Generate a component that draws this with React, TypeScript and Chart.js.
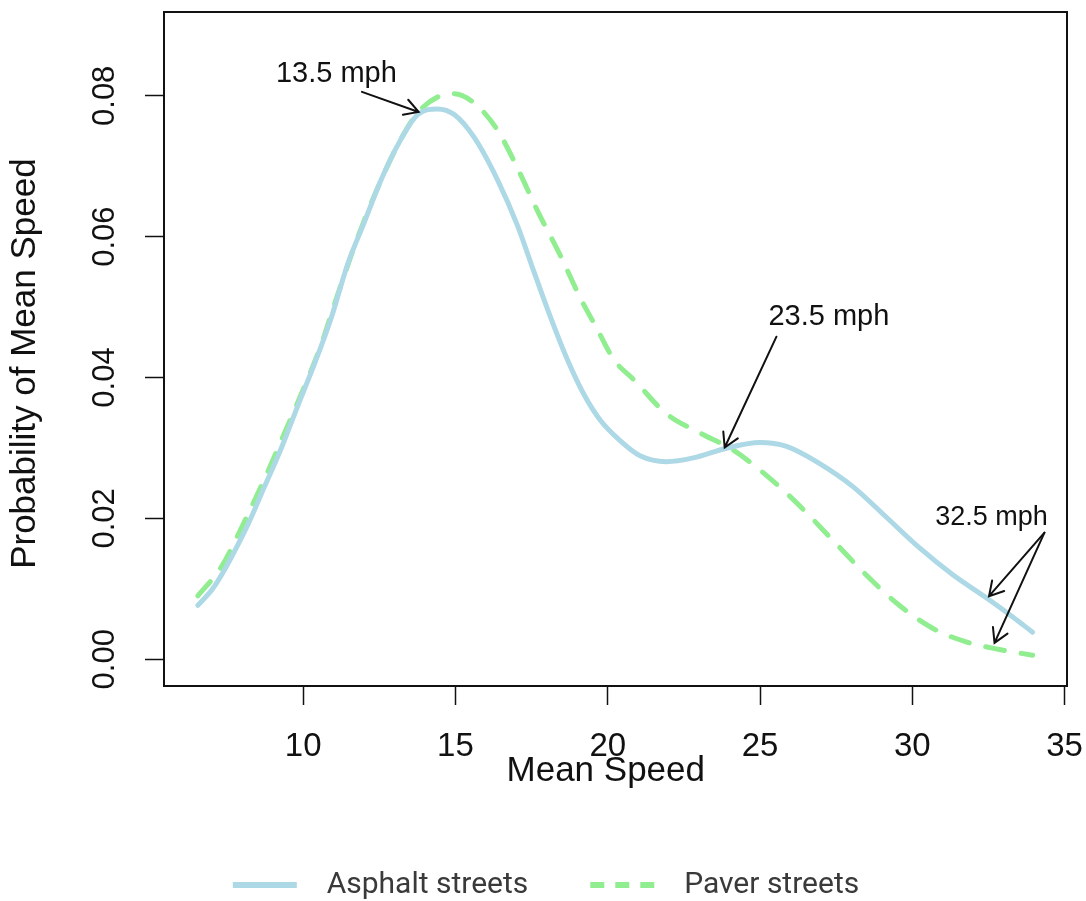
import React, { useEffect, useRef } from "react";
import { Chart, registerables } from "chart.js";

Chart.register(...registerables);

// Asphalt streets (solid light blue)
const asphaltX = [6.54, 7.09, 8.18, 8.73, 9.28, 9.82, 10.37, 10.92, 11.46, 12.01, 12.56, 13.10, 13.76, 14.41, 14.96, 15.62, 16.38, 17.04, 17.58, 18.13, 18.68, 19.22, 19.77, 20.40, 21.06, 21.93, 22.81, 23.90, 24.99, 25.87, 26.96, 28.05, 29.15, 30.24, 31.33, 32.43, 33.30, 33.95];
const asphaltY = [0.00764, 0.01038, 0.01908, 0.02451, 0.02996, 0.03595, 0.04193, 0.04846, 0.05609, 0.06208, 0.06807, 0.07296, 0.07733, 0.07814, 0.07733, 0.07405, 0.06807, 0.06154, 0.05499, 0.04846, 0.04248, 0.03758, 0.03385, 0.03105, 0.02888, 0.02805, 0.02859, 0.02996, 0.03077, 0.03023, 0.02778, 0.02451, 0.02016, 0.01580, 0.01199, 0.00873, 0.00600, 0.00383];

// Paver streets (dashed light green)
const paverX = [6.54, 7.31, 8.08, 8.73, 9.39, 10.04, 10.59, 11.13, 11.79, 12.45, 13.10, 13.76, 14.52, 14.96, 15.62, 16.38, 17.04, 17.69, 18.46, 19.11, 19.66, 20.21, 20.84, 21.93, 23.03, 24.12, 25.20, 26.30, 27.39, 28.48, 29.58, 30.68, 31.77, 32.86, 33.95];
const paverY = [0.00900, 0.01309, 0.01963, 0.02560, 0.03215, 0.03869, 0.04467, 0.05174, 0.05990, 0.06697, 0.07297, 0.07760, 0.08004, 0.08031, 0.07895, 0.07513, 0.06970, 0.06371, 0.05718, 0.05120, 0.04683, 0.04248, 0.03976, 0.03485, 0.03213, 0.02969, 0.02615, 0.02179, 0.01690, 0.01199, 0.00764, 0.00437, 0.00246, 0.00138, 0.00057];

const seriesLabels = ["Asphalt streets", "Paver streets"];
const xTicks = [10, 15, 20, 25, 30, 35];
const yTicks = [0, 0.02, 0.04, 0.06, 0.08];

// Annotations (data coordinates)
const noteText = ["13.5 mph", "23.5 mph", "32.5 mph"];
const noteX = [11.09, 27.26, 32.60];
const noteY = [0.08198, 0.04751, 0.01908];
const noteSize = [29, 29, 27];
const arrowFromX = [11.93, 25.54, 34.34, 34.34];
const arrowFromY = [0.08056, 0.0458, 0.01797, 0.01797];
const arrowToX = [13.79, 23.84, 32.52, 32.70];
const arrowToY = [0.07771, 0.03006, 0.00896, 0.00232];

const SANS = '"Liberation Sans", Arial, sans-serif';

const annotationPlugin = {
  id: "rAnnotations",
  afterDatasetsDraw(chart: any) {
    const { ctx, chartArea, scales } = chart;
    const xs = scales.x;
    const ys = scales.y;
    ctx.save();
    // plot box
    ctx.strokeStyle = "#111";
    ctx.lineWidth = 2;
    ctx.strokeRect(chartArea.left, chartArea.top, chartArea.right - chartArea.left, chartArea.bottom - chartArea.top);
    // arrows
    ctx.strokeStyle = "#111";
    ctx.lineWidth = 2;
    ctx.lineCap = "round";
    for (let i = 0; i < arrowFromX.length; i++) {
      const x1 = xs.getPixelForValue(arrowFromX[i]);
      const y1 = ys.getPixelForValue(arrowFromY[i]);
      const x2 = xs.getPixelForValue(arrowToX[i]);
      const y2 = ys.getPixelForValue(arrowToY[i]);
      const a = Math.atan2(y2 - y1, x2 - x1);
      const h = 16;
      const spread = Math.PI / 6;
      ctx.beginPath();
      ctx.moveTo(x1, y1);
      ctx.lineTo(x2, y2);
      ctx.moveTo(x2 - h * Math.cos(a - spread), y2 - h * Math.sin(a - spread));
      ctx.lineTo(x2, y2);
      ctx.lineTo(x2 - h * Math.cos(a + spread), y2 - h * Math.sin(a + spread));
      ctx.stroke();
    }
    // labels
    ctx.fillStyle = "#111";
    ctx.textAlign = "center";
    ctx.textBaseline = "alphabetic";
    for (let i = 0; i < noteText.length; i++) {
      ctx.font = `${noteSize[i]}px ${SANS}`;
      ctx.fillText(noteText[i], xs.getPixelForValue(noteX[i]), ys.getPixelForValue(noteY[i]));
    }
    ctx.restore();
  },
};

export default function App() {
  const ref = useRef<HTMLCanvasElement>(null);

  useEffect(() => {
    if (!ref.current) return;
    const chart = new Chart(ref.current, {
      type: "line",
      data: {
        datasets: [
          {
            label: seriesLabels[0],
            data: asphaltX.map((x, i) => ({ x, y: asphaltY[i] })),
            borderColor: "#ADD8E6",
            backgroundColor: "#ADD8E6",
            borderWidth: 5,
            pointRadius: 0,
            cubicInterpolationMode: "monotone",
            borderCapStyle: "round",
            borderJoinStyle: "round",
          },
          {
            label: seriesLabels[1],
            data: paverX.map((x, i) => ({ x, y: paverY[i] })),
            borderColor: "#90EE90",
            backgroundColor: "#90EE90",
            borderWidth: 5,
            borderDash: [19, 17],
            pointRadius: 0,
            cubicInterpolationMode: "monotone",
            borderCapStyle: "round",
            borderJoinStyle: "round",
          },
        ],
      },
      options: {
        animation: false,
        responsive: false,
        layout: { padding: { left: 25, right: 19, top: 12, bottom: -9 } },
        scales: {
          x: {
            type: "linear",
            min: 5.43,
            max: 35.08,
            afterBuildTicks: (s: any) => {
              s.ticks = xTicks.map((v) => ({ value: v }));
            },
            afterFit: (s: any) => {
              s.height = 122;
              s.paddingLeft = 0;
              s.paddingRight = 0;
            },
            grid: {
              display: true,
              drawOnChartArea: false,
              drawTicks: true,
              tickLength: 19,
              tickColor: "#111",
              tickWidth: 1.5,
            },
            border: { display: false },
            ticks: {
              color: "#111",
              font: { family: SANS, size: 33 },
              padding: 22,
              maxRotation: 0,
              minRotation: 0,
              autoSkip: false,
              callback: (v: any) => String(v),
            },
            title: {
              display: true,
              text: "Mean Speed  ",
              color: "#111",
              font: { family: SANS, size: 35 },
              padding: { top: 0, bottom: 16 },
            },
          },
          y: {
            type: "linear",
            min: -0.0038,
            max: 0.0919,
            afterBuildTicks: (s: any) => {
              s.ticks = yTicks.map((v) => ({ value: v }));
            },
            afterFit: (s: any) => {
              s.width = 139;
              s.paddingTop = 0;
              s.paddingBottom = 0;
            },
            grid: {
              display: true,
              drawOnChartArea: false,
              drawTicks: true,
              tickLength: 19,
              tickColor: "#111",
              tickWidth: 1.5,
            },
            border: { display: false },
            ticks: {
              color: "#111",
              font: { family: SANS, size: 31 },
              padding: 9,
              minRotation: 90,
              maxRotation: 90,
              crossAlign: "center",
              autoSkip: false,
              callback: (v: any) => Number(v).toFixed(2),
            },
            title: {
              display: true,
              text: "Probability of Mean Speed   ",
              color: "#111",
              font: { family: SANS, size: 35 },
              padding: { top: -21, bottom: 0 },
            },
          },
        },
        plugins: {
          tooltip: { enabled: false },
          legend: {
            display: true,
            position: "bottom",
            labels: {
              usePointStyle: true,
              pointStyle: "line",
              pointStyleWidth: 64,
              padding: 62,
              color: "#3a3a3a",
              font: { family: "Roboto", size: 30 },
              generateLabels: (c: any) => {
                const items = (Chart.defaults.plugins.legend.labels as any).generateLabels(c);
                items.forEach((it: any, i: number) => {
                  it.text = "  " + it.text;
                  it.lineWidth = 6;
                  it.lineCap = "butt";
                  it.lineDash = i === 1 ? [14, 11] : [];
                  it.pointStyle = "line";
                });
                return items;
              },
            },
          },
        },
      } as any,
      plugins: [annotationPlugin],
    });
    return () => chart.destroy();
  }, []);

  return (
    <div style={{ position: "absolute", left: 0, top: 0, width: 1086, height: 901, background: "#fff" }}>
      <canvas ref={ref} width={1086} height={901} style={{ width: 1086, height: 901, display: "block" }} />
    </div>
  );
}
